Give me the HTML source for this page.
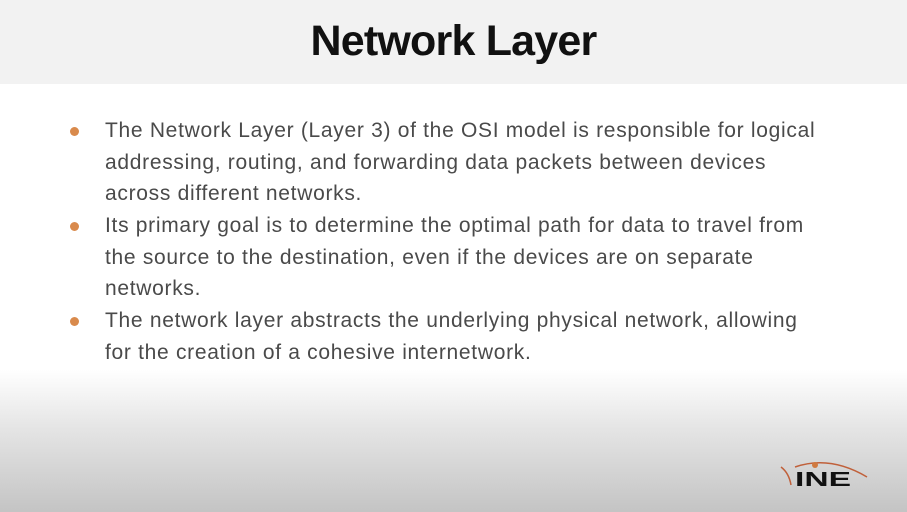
<!DOCTYPE html>
<html><head><meta charset="utf-8"><style>
html,body{margin:0;padding:0}
body{width:907px;height:512px;position:relative;overflow:hidden;font-family:"Liberation Sans",sans-serif;
background:linear-gradient(to bottom,#fff 0,#fff 370px,#e4e4e4 430px,#c4c4c4 512px)}
.hdr{position:absolute;left:0;top:0;width:907px;height:84px;background:#f2f2f2}
.hdr h1{margin:0;position:absolute;left:0;right:0;top:17px;text-align:center;font-size:43px;font-weight:bold;color:#111;letter-spacing:-0.8px}
.b{position:absolute;left:105px;font-size:21px;letter-spacing:0.7px;line-height:31.5px;color:#4a4a4a;width:790px;white-space:nowrap}
.dot{position:absolute;left:70px;width:9px;height:9px;border-radius:50%;background:#d98a4c}
</style></head><body>
<div class="hdr"><h1>Network Layer</h1></div>
<div class="dot" style="top:127px"></div>
<div class="b" style="top:115px">The Network Layer (Layer 3) of the OSI model is responsible for logical<br>addressing, routing, and forwarding data packets between devices<br>across different networks.</div>
<div class="dot" style="top:222px"></div>
<div class="b" style="top:210px">Its primary goal is to determine the optimal path for data to travel from<br>the source to the destination, even if the devices are on separate<br>networks.</div>
<div class="dot" style="top:317px"></div>
<div class="b" style="top:305px">The network layer abstracts the underlying physical network, allowing<br>for the creation of a cohesive internetwork.</div>
<svg style="position:absolute;left:775px;top:455px" width="95" height="35" viewBox="0 0 95 35">
<path d="M20 12 Q55 0 92 22" stroke="#c0603a" stroke-width="1.5" fill="none"/>
<circle cx="40" cy="10" r="3" fill="#d07a40"/>
<path d="M6 12 Q14 18 16 30" stroke="#c0603a" stroke-width="1.5" fill="none"/>
<text x="20" y="31" font-family="Liberation Sans" font-weight="bold" font-size="20" fill="#111" textLength="56" lengthAdjust="spacingAndGlyphs">INE</text>
</svg>
</body></html>
